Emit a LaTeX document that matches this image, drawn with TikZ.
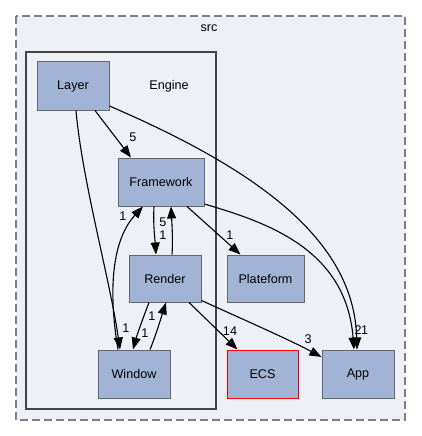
\documentclass[tikz,border=0pt]{standalone}
\usepackage{fontspec}
\setmainfont{Liberation Sans}
\usetikzlibrary{arrows.meta,calc}
\definecolor{clfill}{HTML}{EDF0F7}
\definecolor{nodefill}{HTML}{A2B4D6}
\definecolor{nodeline}{HTML}{666666}
\definecolor{engline}{HTML}{444444}
\definecolor{srcline}{HTML}{808080}
\begin{document}
\begin{tikzpicture}[x=1pt,y=-1pt,
  dir/.style={draw=nodeline,fill=nodefill,line width=1pt,inner sep=0pt,font=\fontsize{12.6}{14}\selectfont},
  lbl/.style={inner sep=0pt,font=\fontsize{12.6}{14}\selectfont},
  edge/.style={line width=1.1pt,-{Triangle[length=12pt,width=9pt]}},
  ]
\useasboundingbox (0,0) rectangle (421,436);
% clusters
\draw[srcline,fill=clfill,line width=1.8pt,dash pattern=on 8pt off 4pt] (16,16) rectangle (405,420);
\node[lbl] (srclbl) at (209,28) {src};
\draw[engline,fill=clfill,line width=2.6pt] (26,52) rectangle (216,409);
\node[lbl] (englbl) at (169,86) {Engine};
% nodes
\node[dir,minimum width=72pt,minimum height=48pt] (Layer) at (73,86) {Layer};
\node[dir,minimum width=86pt,minimum height=48pt] (Framework) at (161,182) {Framework};
\node[dir,minimum width=72pt,minimum height=47pt] (Render) at (165,278.5) {Render};
\node[dir,minimum width=77pt,minimum height=47pt] (Plateform) at (265.5,278.5) {Plateform};
\node[dir,minimum width=72pt,minimum height=48pt] (Window) at (134,374) {Window};
\node[dir,draw=red,minimum width=71pt,minimum height=48pt] (ECS) at (262.5,374) {ECS};
\node[dir,minimum width=72pt,minimum height=48pt] (App) at (358,374) {App};
% edges
\draw[edge] ($(Layer.south)+(22,0)$) -- ($(Framework.north)+(-30,0)$);
\node[lbl] (l1) at (133,137) {5};
\draw[edge] ($(Layer.east)+(0,20)$) .. controls (258,170) and (354,240) .. ($(App.north)+(-1,0)$);
\draw[edge] ($(Framework.east)+(0,22)$) .. controls (265,222) and (346,248) .. ($(App.north)+(-4,0)$);
\node[lbl] (l2) at (358,330) {2};
\node[lbl] (l3) at (364.5,330) {1};
\draw[edge] ($(Layer.south)+(3,0)$) .. controls (82,180) and (110,280) .. ($(Window.north)+(-14,0)$);
\node[lbl] (l4) at (126,328) {1};
\draw[edge] ($(Window.north)+(-16,0)$) .. controls (108,290) and (112,240) .. ($(Framework.south)+(-18,0)$);
\node[lbl] (l5) at (123,216) {1};
\draw[edge] ($(Framework.south)+(-7,0)$) .. controls (153,225) and (155,240) .. ($(Render.north)+(-9,0)$);
\node[lbl] (l6) at (163,222) {5};
\draw[edge] ($(Render.north)+(7,0)$) .. controls (173,240) and (172,225) .. ($(Framework.south)+(10,0)$);
\node[lbl] (l7) at (163,235) {1};
\draw[edge] ($(Framework.south)+(26,0)$) -- ($(Plateform.north)+(-25,0)$);
\node[lbl] (l8) at (230,235) {1};
\draw[edge] ($(Render.south)+(-16,0)$) .. controls (143,318) and (137,335) .. ($(Window.north)+(-1,0)$);
\node[lbl] (l9) at (145,333) {1};
\draw[edge] ($(Window.north)+(16,0)$) .. controls (156,335) and (161,318) .. ($(Render.south)+(1,0)$);
\node[lbl] (l10) at (152,316) {1};
\draw[edge] ($(Render.south)+(24,0)$) -- ($(ECS.north)+(-25,0)$);
\node[lbl] (l11) at (230,331) {14};
\draw[edge] ($(Render.east)+(0,22)$) .. controls (240,318) and (290,340) .. ($(App.west)+(0,-17)$);
\node[lbl] (l12) at (308,339) {3};
\end{tikzpicture}
\end{document}
